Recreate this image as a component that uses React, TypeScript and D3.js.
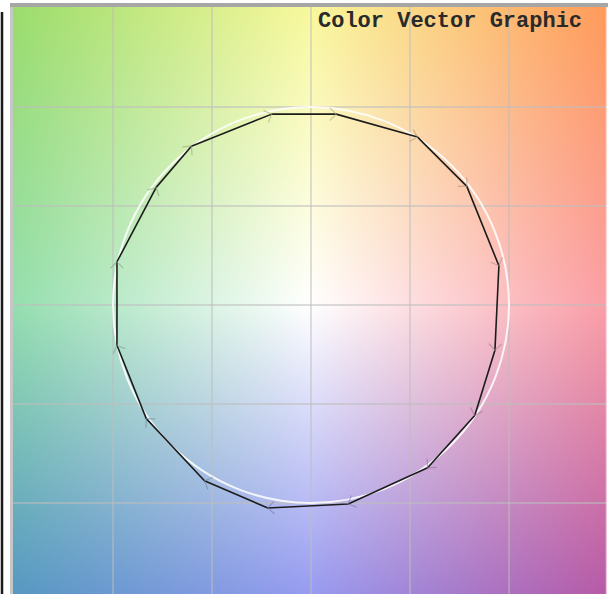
import React, { useEffect, useRef } from 'react';
import * as d3 from 'd3';

// measured vector points (a = horizontal, b = vertical), clockwise from top
const aVals = [-19.8, 12.7, 53.8, 78.7, 94.9, 92.9, 82.7, 58.9, 18.8, -21.8, -53.8, -83.2, -98.0, -98.0, -78.2, -60.4];
const bVals = [96.4, 96.4, 84.8, 59.9, 19.8, -22.8, -55.8, -82.2, -100.5, -102.5, -88.8, -57.4, -20.3, 21.8, 59.4, 80.2];
const gridTicks = [-100, -50, 0, 50, 100];
const refRadius = 100;
const title = 'Color Vector Graphic';

// background anchor colours, rows top -> bottom, columns left -> right
const bgTop = ['#9adc6c', '#f8f89c', '#ff9a5a'];
const bgMid = ['#94deae', '#ffffff', '#fa9ea6'];
const bgBot = ['#5496c2', '#9498f0', '#b458a6'];

const W = 608, H = 594;

export default function App() {
  const ref = useRef<SVGSVGElement>(null);

  useEffect(() => {
    const svg = d3.select(ref.current);
    svg.selectAll('*').remove();

    const plot = { left: 12, right: 607, top: 7, bottom: 603 };
    const x = d3.scaleLinear().domain([-150, 150]).range([14, 608]);
    const y = d3.scaleLinear().domain([150, -150]).range([8, 602]);

    // background colour plane
    const anchors = [bgTop, bgMid, bgBot].map(r => r.map(c => d3.rgb(c)));
    const pw = plot.right - plot.left, ph = plot.bottom - plot.top;
    const canvas = document.createElement('canvas');
    canvas.width = pw; canvas.height = ph;
    const ctx = canvas.getContext('2d')!;
    const img = ctx.createImageData(pw, ph);
    const mix = (p: number, q: number, t: number) => p + (q - p) * t;
    for (let j = 0; j < ph; j++) {
      const v = (j / (ph - 1)) * 2;
      const r = Math.min(1, Math.floor(v)), fv = v - r;
      for (let i = 0; i < pw; i++) {
        const u = (i / (pw - 1)) * 2;
        const c = Math.min(1, Math.floor(u)), fu = u - c;
        const c00 = anchors[r][c], c01 = anchors[r][c + 1], c10 = anchors[r + 1][c], c11 = anchors[r + 1][c + 1];
        const k = (j * pw + i) * 4;
        (['r', 'g', 'b'] as const).forEach((ch, n) => {
          img.data[k + n] = mix(mix(c00[ch], c01[ch], fu), mix(c10[ch], c11[ch], fu), fv);
        });
        img.data[k + 3] = 255;
      }
    }
    ctx.putImageData(img, 0, 0);
    const colorAt = (px: number, py: number) => {
      const d = ctx.getImageData(Math.max(0, Math.min(pw - 1, Math.round(px - plot.left))), Math.max(0, Math.min(ph - 1, Math.round(py - plot.top))), 1, 1).data;
      return d3.rgb(d[0], d[1], d[2]);
    };

    svg.append('image')
      .attr('x', plot.left).attr('y', plot.top)
      .attr('width', pw).attr('height', ph)
      .attr('preserveAspectRatio', 'none')
      .attr('href', canvas.toDataURL());

    // grid
    const grid = svg.append('g').attr('stroke', 'rgba(190,190,190,0.55)').attr('stroke-width', 1.8);
    grid.selectAll('.vx').data(gridTicks).join('line')
      .attr('x1', d => x(d)).attr('x2', d => x(d))
      .attr('y1', plot.top).attr('y2', plot.bottom);
    grid.selectAll('.hy').data(gridTicks).join('line')
      .attr('y1', d => y(d)).attr('y2', d => y(d))
      .attr('x1', plot.left).attr('x2', plot.right);

    // frame
    svg.append('rect').attr('x', 10).attr('y', 3).attr('width', W - 10).attr('height', 4).attr('fill', '#a6a6a6');
    svg.append('rect').attr('x', 10).attr('y', 7).attr('width', 3).attr('height', H).attr('fill', '#c6c6c6');
    svg.append('line').attr('x1', 2).attr('x2', 2).attr('y1', 12).attr('y2', H)
      .attr('stroke', '#1a1a1a').attr('stroke-width', 2.5);
    svg.append('line').attr('x1', 606.5).attr('x2', 606.5).attr('y1', plot.top).attr('y2', H)
      .attr('stroke', 'rgba(255,240,245,0.7)').attr('stroke-width', 1.5);

    // reference circle
    svg.append('circle')
      .attr('cx', x(0)).attr('cy', y(0))
      .attr('r', x(refRadius) - x(0))
      .attr('fill', 'none').attr('stroke', 'rgba(255,255,255,0.85)').attr('stroke-width', 2);

    // measured polygon
    const pts = aVals.map((a, i) => [x(a), y(bVals[i])] as [number, number]);
    svg.append('path')
      .attr('d', d3.line().curve(d3.curveLinearClosed)(pts))
      .attr('fill', 'none').attr('stroke', '#1c1c1c').attr('stroke-width', 1.6)
      .attr('stroke-linejoin', 'round');

    // arrow heads at segment ends
    const len = 9, ang = Math.PI / 4;
    pts.forEach((p, i) => {
      const q = pts[(i + 1) % pts.length];
      const th = Math.atan2(p[1] - q[1], p[0] - q[0]);
      const w1 = [q[0] + len * Math.cos(th + ang), q[1] + len * Math.sin(th + ang)];
      const w2 = [q[0] + len * Math.cos(th - ang), q[1] + len * Math.sin(th - ang)];
      svg.append('path')
        .attr('d', `M${w1[0]},${w1[1]}L${q[0]},${q[1]}L${w2[0]},${w2[1]}`)
        .attr('fill', 'none')
        .attr('stroke', colorAt(q[0], q[1]).darker(1).toString())
        .attr('stroke-opacity', 0.6)
        .attr('stroke-width', 1.2);
    });

    // title
    svg.append('text')
      .attr('x', 318).attr('y', 27)
      .attr('font-family', '"Liberation Mono", "DejaVu Sans Mono", monospace')
      .attr('font-size', 22).attr('font-weight', 'bold')
      .attr('fill', '#2a2a2a')
      .text(title);
  }, []);

  return (
    <div style={{ position: 'absolute', left: 0, top: 0, width: W, height: H, background: '#fff' }}>
      <svg ref={ref} width={W} height={H} style={{ display: 'block' }}></svg>
    </div>
  );
}
